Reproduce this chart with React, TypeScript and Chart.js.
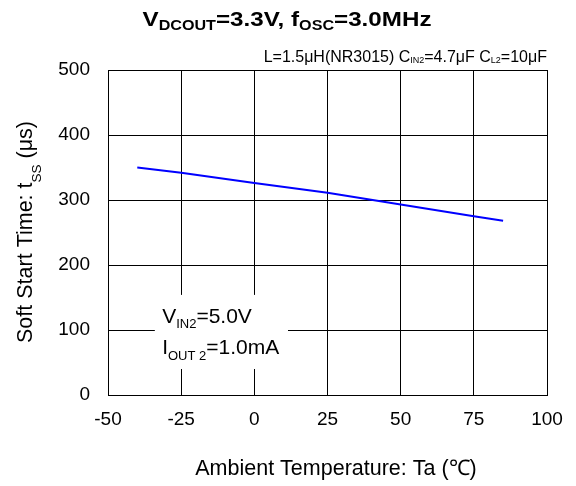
import React, { useEffect, useRef } from "react";
import { Chart, registerables } from "chart.js";

Chart.register(...registerables);

// ---- data ----
const temperatures = [-40, -25, 0, 25, 50, 75, 85];
const softStartUs = [350, 342, 326, 311, 293, 275, 268];
const xRange = [-50, 100];
const yRange = [0, 500];
const xStep = 25;
const yStep = 100;

const titleParts = [
  { t: "V" },
  { t: "DCOUT", sub: true },
  { t: "=3.3V, f" },
  { t: "OSC", sub: true },
  { t: "=3.0MHz" },
];
const noteParts = [
  { t: "L=1.5μH(NR3015) C" },
  { t: "IN2", sub: true },
  { t: "=4.7μF C" },
  { t: "L2", sub: true },
  { t: "=10μF" },
];
const condLine1 = [{ t: "V" }, { t: "IN2", sub: true }, { t: "=5.0V" }];
const condLine2 = [{ t: "I" }, { t: "OUT 2", sub: true }, { t: "=1.0mA" }];
const yTitleParts = [{ t: "Soft Start Time: t" }, { t: "SS", sub: true }, { t: " (μs)" }];
const xTitle = "Ambient Temperature: Ta (℃)";

const FONT = '"Liberation Sans", Arial, Helvetica, sans-serif';

type Part = { t: string; sub?: boolean };

function partsWidth(ctx: CanvasRenderingContext2D, parts: Part[], mainFont: string, subFont: string) {
  let w = 0;
  for (const p of parts) {
    ctx.font = p.sub ? subFont : mainFont;
    w += ctx.measureText(p.t).width;
  }
  return w;
}

function drawParts(
  ctx: CanvasRenderingContext2D,
  parts: Part[],
  x: number,
  y: number,
  mainFont: string,
  subFont: string,
  subDy: number,
  align: "left" | "center" | "right",
  sx = 1
) {
  const w = partsWidth(ctx, parts, mainFont, subFont);
  ctx.save();
  ctx.translate(x, y);
  ctx.scale(sx, 1);
  ctx.textAlign = "left";
  ctx.textBaseline = "alphabetic";
  let cx = align === "left" ? 0 : align === "center" ? -w / 2 : -w;
  for (const p of parts) {
    ctx.font = p.sub ? subFont : mainFont;
    ctx.fillText(p.t, cx, p.sub ? subDy : 0);
    cx += ctx.measureText(p.t).width;
  }
  ctx.restore();
}

const textPlugin = {
  id: "customTexts",
  afterDraw(chart: any) {
    const ctx: CanvasRenderingContext2D = chart.ctx;
    const xs = chart.scales.x;
    const ys = chart.scales.y;
    const area = chart.chartArea;
    ctx.save();
    ctx.fillStyle = "#000";

    // Title (centered on canvas)
    const tMain = `bold 21px ${FONT}`;
    const tSub = `bold 14px ${FONT}`;
    const tw = partsWidth(ctx, titleParts, tMain, tSub);
    drawParts(ctx, titleParts, 287, 26, tMain, tSub, 3.5, "center", 289 / tw);

    // Note above plot, right-aligned
    drawParts(ctx, noteParts, area.right, area.top - 8, `16px ${FONT}`, `9px ${FONT}`, 1, "right");

    // Condition box
    const bx1 = xs.getPixelForValue(-34);
    const bx2 = xs.getPixelForValue(11.5);
    const by1 = ys.getPixelForValue(154);
    const by2 = ys.getPixelForValue(40);
    ctx.fillStyle = "#fff";
    ctx.fillRect(bx1, by1, bx2 - bx1, by2 - by1);
    ctx.fillStyle = "#000";
    const cMain = `21px ${FONT}`;
    const cSub = `13px ${FONT}`;
    drawParts(ctx, condLine1, xs.getPixelForValue(-31.5), ys.getPixelForValue(110.3), cMain, cSub, 5, "left");
    drawParts(ctx, condLine2, xs.getPixelForValue(-31.5), ys.getPixelForValue(63), cMain, cSub, 6, "left");

    // Y axis title (rotated)
    ctx.save();
    ctx.translate(32, 232);
    ctx.rotate(-Math.PI / 2);
    drawParts(ctx, yTitleParts, 0, 0, `21.5px ${FONT}`, `13.5px ${FONT}`, 9, "center");
    ctx.restore();

    // X axis title
    ctx.font = `21.5px ${FONT}`;
    ctx.textAlign = "center";
    ctx.textBaseline = "alphabetic";
    ctx.fillText(xTitle, 336, 475);

    ctx.restore();
  },
};

export default function App() {
  const canvasRef = useRef<HTMLCanvasElement | null>(null);

  useEffect(() => {
    const canvas = canvasRef.current;
    if (!canvas) return;
    const chart = new Chart(canvas, {
      type: "line",
      data: {
        datasets: [
          {
            data: temperatures.map((t, i) => ({ x: t, y: softStartUs[i] })),
            borderColor: "#0000ff",
            borderWidth: 2,
            pointRadius: 0,
            tension: 0,
            fill: false,
          },
        ],
      },
      options: {
        animation: false,
        responsive: false,
        maintainAspectRatio: false,
        layout: { padding: { top: 70, right: 29, left: 0, bottom: 0 } },
        plugins: {
          legend: { display: false },
          tooltip: { enabled: false },
          title: { display: false },
        },
        scales: {
          x: {
            type: "linear",
            min: xRange[0],
            max: xRange[1],
            afterFit: (s: any) => {
              s.height = 91;
            },
            ticks: {
              stepSize: xStep,
              color: "#000",
              font: { family: FONT, size: 19 },
              padding: 13,
              maxRotation: 0,
            },
            grid: { color: "#000", lineWidth: 1, drawTicks: false },
            border: { color: "#000", width: 1 },
          },
          y: {
            min: yRange[0],
            max: yRange[1],
            afterFit: (s: any) => {
              s.width = 108;
            },
            ticks: {
              stepSize: yStep,
              color: "#000",
              font: { family: FONT, size: 19 },
              padding: 18,
            },
            grid: { color: "#000", lineWidth: 1, drawTicks: false },
            border: { color: "#000", width: 1 },
          },
        },
      },
      plugins: [textPlugin],
    });
    return () => chart.destroy();
  }, []);

  return (
    <div style={{ position: "absolute", left: 0, top: 0, width: 576, height: 486, background: "#fff" }}>
      <canvas ref={canvasRef} width={576} height={486} style={{ width: 576, height: 486, display: "block" }} />
    </div>
  );
}
